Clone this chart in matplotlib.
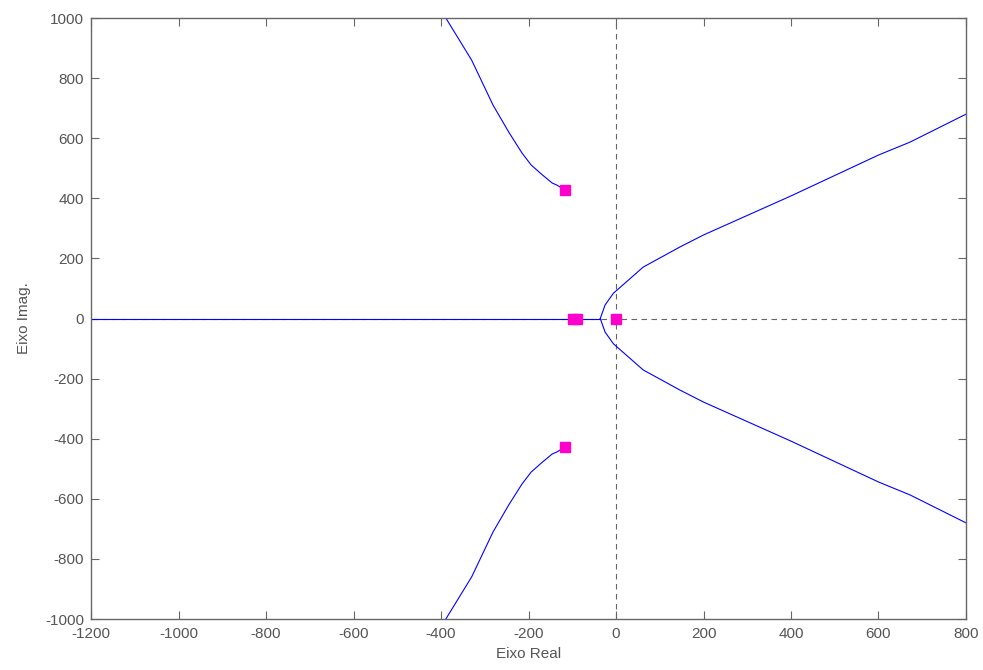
import numpy as np
import matplotlib.pyplot as plt

plt.rcParams['font.family'] = ['Liberation Sans', 'DejaVu Sans']
plt.rcParams['axes.unicode_minus'] = False

# ramo complexo superior (o inferior e o conjugado)
upper_re = [-389, -330, -281, -245, -215, -194, -170, -146, -135, -117]
upper_im = [1000, 860, 710, 620, 551, 511, 480, 451, 444, 428]

# ramo que vai para o semiplano direito
right_re = [-36, -25, -6, 30, 62, 146, 200, 400, 600, 672, 800]
right_im = [0, 45, 84, 130, 171, 238, 278, 408, 544, 587, 680]

# eixo real
real_re = [-1200, -36]
real_im = [0, 0]

# polos marcados
poles_re = [-117, -117, -98, -89, 0]
poles_im = [428, -428, 0, 0, 0]

fig = plt.figure(figsize=(9.83, 6.70), dpi=100)
ax = fig.add_axes([0.0926, 0.0761, 0.8901, 0.8970])

ax.axhline(0, color='#666666', ls=(0, (5, 4)), lw=0.8)
ax.axvline(0, color='#666666', ls=(0, (5, 4)), lw=0.8)

ax.plot(upper_re, upper_im, color='#0000ff', lw=0.8)
ax.plot(upper_re, -np.array(upper_im), color='#0000ff', lw=0.8)
ax.plot(right_re, right_im, color='#0000ff', lw=0.8)
ax.plot(right_re, -np.array(right_im), color='#0000ff', lw=0.8)
ax.plot(real_re, real_im, color='#0000ff', lw=0.8)

ax.plot(poles_re, poles_im, 's', color='#ff00cc', ms=7, mec='#ff00cc', ls='none')

ax.set_xlim(-1200, 800)
ax.set_ylim(-1000, 1000)
ax.set_xticks(np.arange(-1200, 801, 200))
ax.set_yticks(np.arange(-1000, 1001, 200))
ax.tick_params(direction='in', top=True, right=True, length=6, width=0.8,
               colors='#666666', labelcolor='#555555', labelsize=11)
ax.tick_params(axis='x', pad=6)
ax.tick_params(axis='y', pad=5)
for s in ax.spines.values():
    s.set_color('#666666')
    s.set_linewidth(1.0)

ax.set_xlabel('Eixo Real', color='#555555', fontsize=11, labelpad=4)
ax.set_ylabel('Eixo Imag.', color='#555555', fontsize=11, labelpad=10)

fig.savefig('out.png', dpi=100)
